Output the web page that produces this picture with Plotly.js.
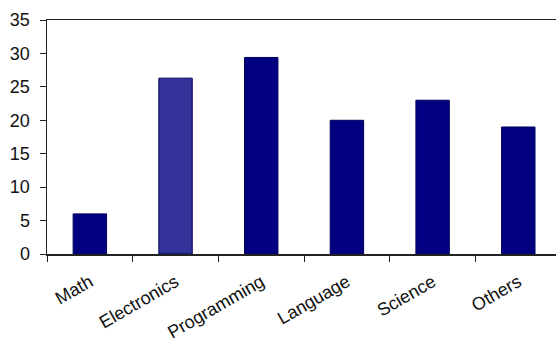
<!DOCTYPE html>
<html>
<head>
<meta charset="utf-8">
<script src="https://cdn.plot.ly/plotly-3.0.1.min.js"></script>
<style>
  html, body { margin: 0; padding: 0; background: #ffffff; }
  #chart { width: 556px; height: 341px; }
</style>
</head>
<body>
<div id="chart"></div>
<script>
// Subjects and their counts
const categories = ["Math", "Electronics", "Programming", "Language", "Science", "Others"];
const counts = [6, 26.3, 29.4, 20, 23, 19];
const barColors = ["#000080", "#333399", "#000080", "#000080", "#000080", "#000080"];
const yTicks = [0, 5, 10, 15, 20, 25, 30, 35];

const trace = {
  type: "bar",
  x: categories,
  y: counts,
  marker: {
    color: barColors,
    line: { color: "#00005a", width: 1 }
  },
  hoverinfo: "x+y"
};

const layout = {
  width: 556,
  height: 341,
  margin: { l: 47, r: 0, t: 20, b: 87 },
  paper_bgcolor: "#ffffff",
  plot_bgcolor: "#ffffff",
  showlegend: false,
  bargap: 0.61,
  font: { family: "Liberation Sans, Arial, sans-serif", size: 18, color: "#111111" },
  xaxis: {
    type: "category",
    range: [-0.5, 5.44],
    showgrid: false,
    zeroline: false,
    showline: true,
    linecolor: "#222222",
    linewidth: 1.5,
    mirror: true,
    ticks: "outside",
    tickson: "boundaries",
    ticklen: 6,
    tickcolor: "#222222",
    tickangle: -30,
    ticklabelstandoff: 9,
    tickfont: { size: 18, color: "#111111" }
  },
  yaxis: {
    range: [0, 35],
    tickvals: yTicks,
    ticktext: yTicks.map(String),
    showgrid: false,
    zeroline: false,
    showline: true,
    linecolor: "#222222",
    linewidth: 1.5,
    ticks: "outside",
    ticklen: 6,
    tickcolor: "#222222",
    ticklabelstandoff: 6,
    tickfont: { size: 18, color: "#111111" }
  }
};

Plotly.newPlot("chart", [trace], layout, { displayModeBar: false, staticPlot: true });
</script>
</body>
</html>
